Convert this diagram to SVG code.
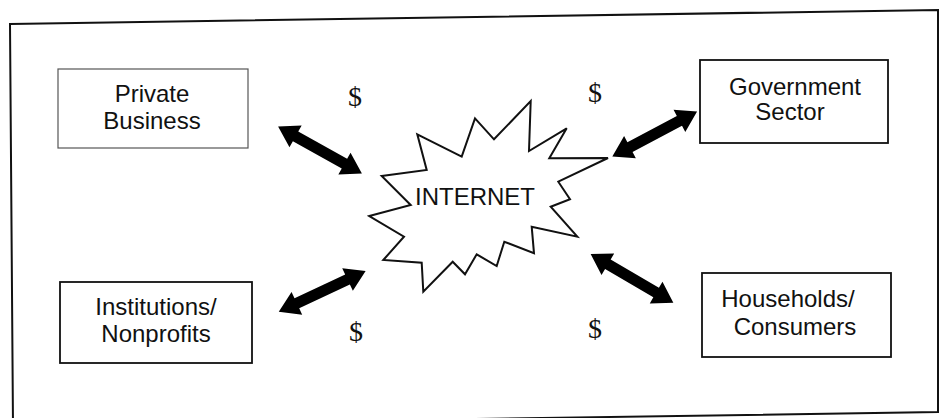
<svg xmlns="http://www.w3.org/2000/svg" width="939" height="418" viewBox="0 0 939 418">
<style>
.box{fill:#fff;stroke:#111;stroke-width:1.8}
.lbl{font-family:"Liberation Sans","Open Sans",sans-serif;font-size:24px;fill:#111;text-anchor:middle}
.dol{font-family:"Liberation Serif","DejaVu Serif",serif;font-size:28px;fill:#111;text-anchor:middle}
.arr{fill:#000}
</style>
<defs>
<path id="dbl" d="M -48 0 L -28 -12.5 L -28 -5.5 L 28 -5.5 L 28 -12.5 L 48 0 L 28 12.5 L 28 5.5 L -28 5.5 L -28 12.5 Z"/>
</defs>
<rect width="939" height="418" fill="#fff"/>
<polygon id="frame" points="10,24 938,10 938,412 13,426" fill="none" stroke="#111" stroke-width="2"/>
<g id="private-business">
<rect x="58" y="69" width="190" height="79" fill="#fff" stroke="#555" stroke-width="1.2"/>
<text class="lbl" x="152" y="102">Private</text>
<text class="lbl" x="152" y="129">Business</text>
</g>
<g id="government-sector">
<rect class="box" x="700" y="60" width="188" height="83"/>
<text class="lbl" x="795" y="95">Government</text>
<text class="lbl" x="790" y="120">Sector</text>
</g>
<g id="institutions-nonprofits">
<rect class="box" x="60" y="282" width="192" height="81"/>
<text class="lbl" x="156" y="315">Institutions/</text>
<text class="lbl" x="156" y="342">Nonprofits</text>
</g>
<g id="households-consumers">
<rect class="box" x="702" y="273" width="189" height="84"/>
<text class="lbl" x="788" y="307">Households/</text>
<text class="lbl" x="795" y="335">Consumers</text>
</g>
<g id="internet">
<polygon points="369.3,216 410.7,205 381.7,176 426.7,170 417.3,134.3 461.7,156.7 475,118.3 494,139.3 530.7,101 529,151 566.7,128.3 549.3,158.3 608,158 558.3,181.7 570,199.3 550.7,206.7 577.3,236.7 531.7,226.7 534,253.3 504.3,241.7 496.7,266 476.7,254.3 465,274.3 452.7,261.7 423.3,291.7 421.7,262.7 383.3,260 404,236.7" fill="#fff" stroke="#111" stroke-width="2" stroke-linejoin="miter"/>
<text class="lbl" x="475" y="205">INTERNET</text>
</g>
<g id="connectors" class="arr">
<use href="#dbl" transform="translate(320,150) rotate(29.2)"/>
<use href="#dbl" transform="translate(654.7,134) rotate(-28)"/>
<use href="#dbl" transform="translate(632,278.4) rotate(30.5)"/>
<use href="#dbl" transform="translate(322.2,291.4) rotate(-25.2)"/>
</g>
<g id="money">
<text class="dol" x="355" y="106">$</text>
<text class="dol" x="595" y="102">$</text>
<text class="dol" x="356" y="341">$</text>
<text class="dol" x="595" y="338">$</text>
</g>
</svg>
